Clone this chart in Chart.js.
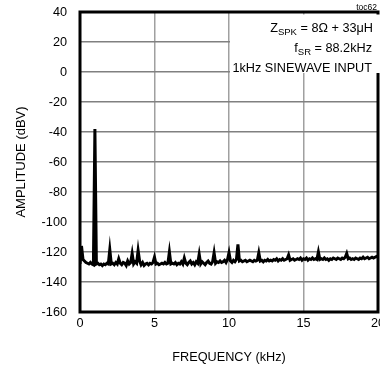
<!DOCTYPE html>
<html>
<head>
<meta charset="utf-8">
<script src="https://cdn.jsdelivr.net/npm/chart.js@4"></script>
<style>
  html, body { margin: 0; padding: 0; background: #fff; overflow: hidden; }
  canvas { display: block; }
</style>
</head>
<body>
<canvas id="fft" width="380" height="368"></canvas>
<script>
// frequency bins (kHz)
const freqKHz = [
  0.0, 0.1, 0.2, 0.3, 0.4, 0.5, 0.6, 0.7, 0.8, 0.9,
  1.0, 1.1, 1.2, 1.3, 1.4, 1.5, 1.6, 1.7, 1.8, 1.9,
  2.0, 2.1, 2.2, 2.3, 2.4, 2.5, 2.6, 2.7, 2.8, 2.9,
  3.0, 3.1, 3.2, 3.3, 3.4, 3.5, 3.6, 3.7, 3.8, 3.9,
  4.0, 4.1, 4.2, 4.3, 4.4, 4.5, 4.6, 4.7, 4.8, 4.9,
  5.0, 5.1, 5.2, 5.3, 5.4, 5.5, 5.6, 5.7, 5.8, 5.9,
  6.0, 6.1, 6.2, 6.3, 6.4, 6.5, 6.6, 6.7, 6.8, 6.9,
  7.0, 7.1, 7.2, 7.3, 7.4, 7.5, 7.6, 7.7, 7.8, 7.9,
  8.0, 8.1, 8.2, 8.3, 8.4, 8.5, 8.6, 8.7, 8.8, 8.9,
  9.0, 9.1, 9.2, 9.3, 9.4, 9.5, 9.6, 9.7, 9.8, 9.9,
  10.0, 10.1, 10.2, 10.3, 10.4, 10.5, 10.6, 10.7, 10.8, 10.9,
  11.0, 11.1, 11.2, 11.3, 11.4, 11.5, 11.6, 11.7, 11.8, 11.9,
  12.0, 12.1, 12.2, 12.3, 12.4, 12.5, 12.6, 12.7, 12.8, 12.9,
  13.0, 13.1, 13.2, 13.3, 13.4, 13.5, 13.6, 13.7, 13.8, 13.9,
  14.0, 14.1, 14.2, 14.3, 14.4, 14.5, 14.6, 14.7, 14.8, 14.9,
  15.0, 15.1, 15.2, 15.3, 15.4, 15.5, 15.6, 15.7, 15.8, 15.9,
  16.0, 16.1, 16.2, 16.3, 16.4, 16.5, 16.6, 16.7, 16.8, 16.9,
  17.0, 17.1, 17.2, 17.3, 17.4, 17.5, 17.6, 17.7, 17.8, 17.9,
  18.0, 18.1, 18.2, 18.3, 18.4, 18.5, 18.6, 18.7, 18.8, 18.9,
  19.0, 19.1, 19.2, 19.3, 19.4, 19.5, 19.6, 19.7, 19.8, 19.9,
  20.0
];

// amplitude (dBV)
const amplitudeDBV = [
  -128, -116, -125, -126, -127, -127.5, -128, -127, -128, -128.5,
  -38, -128, -127.5, -128.5, -128, -129, -128, -128.5, -127.5, -128,
  -118.5, -128, -127.5, -128.5, -127, -128, -124.5, -127.5, -128.5, -127,
  -127.5, -129, -126, -128, -127, -121, -128, -126.5, -127.5, -119,
  -126, -128.5, -127, -129, -128, -127.5, -128.5, -127.5, -128, -127,
  -123.5, -128, -127.5, -128.5, -128, -127.5, -128, -127, -128, -127.5,
  -120, -128, -127.5, -128, -127, -128.5, -127.5, -128, -126.5, -128,
  -124, -127.5, -128.5, -127, -126, -128, -127, -128.5, -126.5, -127.5,
  -121.5, -128, -126.5, -127.5, -128.5, -127, -126, -127.5, -128, -126.5,
  -120.5, -127.5, -126.5, -127, -126, -127, -126.5, -125.5, -127, -125,
  -120.5, -126, -127, -125.5, -126.5, -125, -115, -126, -125.5, -126.5,
  -126, -125.5, -126.5, -126, -125.5, -126, -126.5, -125.5, -126, -125.5,
  -120.5, -126, -125.5, -126.5, -125.5, -126, -125, -126, -125.5, -126,
  -125, -125.5, -124.5, -126, -125, -125.5, -124.5, -125.5, -125, -124.5,
  -122, -125.5, -125, -124.5, -125.5, -125, -124.5, -125, -124, -125.5,
  -124.5, -125, -124, -125.5, -124.5, -125, -124, -125, -124.5, -125,
  -120, -125, -124.5, -125, -124, -125, -124.5, -125.5, -124.5, -125,
  -124, -124.5, -125, -124, -124.5, -125, -124, -124.5, -123.5, -121,
  -124.5, -124, -125, -124.5, -125, -124, -124.5, -125, -124, -124.5,
  -123.5, -124.5, -124, -123.5, -124.5, -124, -123.5, -124, -123.5, -123,
  -123.5
];

const xTitle = "FREQUENCY (kHz)";
const yTitle = "AMPLITUDE (dBV)";
const figureTag = "toc62";
const noteLines = [
  [{ t: "Z" }, { t: "SPK", sub: true }, { t: " = 8\u03A9 + 33\u03BCH" }],
  [{ t: "f" }, { t: "SR", sub: true }, { t: " = 88.2kHz" }],
  [{ t: "1kHz SINEWAVE INPUT" }]
];

const FONT = "'Liberation Sans', Arial, sans-serif";
Chart.defaults.font.family = FONT;
Chart.defaults.color = "#000";

// frame + note box drawn on top of the plot
const framePlugin = {
  id: "frame",
  afterDatasetsDraw(chart) {
    const { ctx, chartArea: a } = chart;
    ctx.save();
    ctx.strokeStyle = "#000";
    ctx.lineWidth = 3;
    ctx.strokeRect(a.left, a.top, a.right - a.left, a.bottom - a.top);

    // white box behind the note
    ctx.fillStyle = "#fff";
    ctx.fillRect(230, 14.5, 150, 58.5);

    const mainFont = "12.7px " + FONT;
    const subFont = "9.5px " + FONT;
    ctx.fillStyle = "#000";
    ctx.textBaseline = "alphabetic";
    ctx.textAlign = "left";
    const rightX = [373, 372, 372];
    const baseY = [32, 52, 72];
    noteLines.forEach((parts, i) => {
      let w = 0;
      parts.forEach(p => {
        ctx.font = p.sub ? subFont : mainFont;
        w += ctx.measureText(p.t).width;
      });
      let x = rightX[i] - w;
      parts.forEach(p => {
        ctx.font = p.sub ? subFont : mainFont;
        ctx.fillText(p.t, x, baseY[i] + (p.sub ? 3 : 0));
        x += ctx.measureText(p.t).width;
      });
    });

    ctx.font = "8.5px " + FONT;
    ctx.textAlign = "right";
    ctx.fillText(figureTag, 377, 10);
    ctx.restore();
  }
};

new Chart(document.getElementById("fft"), {
  type: "line",
  data: {
    datasets: [{
      data: freqKHz.map((f, i) => ({ x: f, y: amplitudeDBV[i] })),
      borderColor: "#000",
      borderWidth: 3,
      pointRadius: 0,
      tension: 0,
      fill: false
    }]
  },
  options: {
    responsive: false,
    animation: false,
    devicePixelRatio: 1,
    layout: { padding: { top: 12, right: 2, left: 0, bottom: 0 } },
    plugins: { legend: { display: false }, tooltip: { enabled: false } },
    scales: {
      x: {
        type: "linear",
        min: 0,
        max: 20,
        ticks: { stepSize: 5, padding: 4, font: { size: 12.7 }, maxRotation: 0 },
        grid: { color: "#a0a0a0", lineWidth: 1.5, drawTicks: false },
        border: { display: false },
        title: { display: true, text: xTitle, font: { size: 12.7 }, padding: { top: 0, bottom: 3 } },
        afterFit(scale) {
          scale.height = 56;
          scale.paddingLeft = 0;
          scale.paddingRight = 0;
        }
      },
      y: {
        min: -160,
        max: 40,
        ticks: { stepSize: 20, padding: 13, font: { size: 12.7 } },
        grid: { color: "#808080", lineWidth: 1.5, drawTicks: false },
        border: { display: false },
        title: { display: true, text: yTitle, font: { size: 13 }, padding: { top: 14, bottom: 0 } },
        afterFit(scale) {
          scale.width = 80;
          scale.paddingTop = 0;
          scale.paddingBottom = 0;
        }
      }
    }
  },
  plugins: [framePlugin]
});
</script>
</body>
</html>
